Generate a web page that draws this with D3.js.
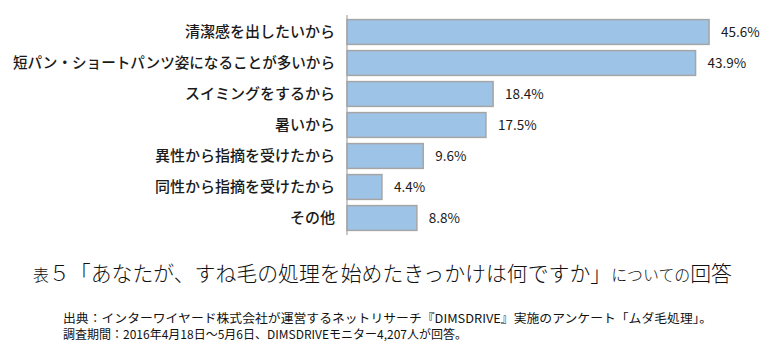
<!DOCTYPE html>
<html><head><meta charset="utf-8">
<script src="https://cdn.jsdelivr.net/npm/d3@7"></script>
<style>
html,body{margin:0;padding:0;background:#fff;}
svg{display:block;}
text{font-family:"Noto Sans CJK JP","Noto Sans",sans-serif;}
</style></head>
<body>
<svg id="chart" width="774" height="348"></svg>
<script>
const categories = ["清潔感を出したいから","短パン・ショートパンツ姿になることが多いから","スイミングをするから","暑いから","異性から指摘を受けたから","同性から指摘を受けたから","その他"];
const values = [45.6, 43.9, 18.4, 17.5, 9.6, 4.4, 8.8];
const valueLabels = ["45.6%","43.9%","18.4%","17.5%","9.6%","4.4%","8.8%"];
const titleParts = [
  {t:"表", big:false},
  {t:"５「あなたが、すね毛の処理を始めたきっかけは何ですか」", big:true},
  {t:"についての", big:false},
  {t:"回答", big:true}
];
const notes = [
  "出典：インターワイヤード株式会社が運営するネットリサーチ『DIMSDRIVE』実施のアンケート「ムダ毛処理」。",
  "調査期間：2016年4月18日～5月6日、DIMSDRIVEモニター4,207人が回答。"
];

const svg = d3.select("#chart");
const x = d3.scaleLinear().domain([0, 50]).range([347, 744]);
const y = d3.scaleBand().domain(categories).range([16.5, 233.5]).paddingInner(0.2).paddingOuter(0.1);

svg.append("g").selectAll("rect").data(values).join("rect")
  .attr("x", x(0))
  .attr("y", (d,i)=>y(categories[i]))
  .attr("width", d=>x(d)-x(0))
  .attr("height", y.bandwidth())
  .attr("fill", "#9DC3E6")
  .attr("stroke", "#A5A5A5")
  .attr("stroke-width", 1.5);

const yAxis = svg.append("g").attr("transform", `translate(${x(0)},0)`)
  .call(d3.axisLeft(y).tickSize(0).tickPadding(12));
yAxis.select(".domain").attr("stroke", "#A6A6A6").attr("stroke-width", 1.2)
  .attr("d", "M0,15V235");
yAxis.selectAll("text").attr("font-size", 15).attr("fill", "#1a1a1a")
  .attr("font-family", '"Noto Sans CJK JP",sans-serif').attr("font-weight", 500);
yAxis.selectAll("text").filter(d=>d===categories[1])
  .attr("textLength", 322).attr("lengthAdjust", "spacingAndGlyphs");

svg.append("g").selectAll("text").data(values).join("text")
  .attr("x", d=>x(d)+12)
  .attr("y", (d,i)=>y(categories[i]) + y.bandwidth()/2)
  .attr("dy", "0.35em")
  .attr("font-size", 13.5)
  .attr("fill", "#1a1a1a")
  .attr("font-family", '"Open Sans","Noto Sans",sans-serif')
  .text((d,i)=>valueLabels[i]);

const title = svg.append("text").attr("x", 33).attr("y", 281)
  .attr("fill", "#111").attr("font-weight", 300)
  .attr("textLength", 699).attr("lengthAdjust", "spacingAndGlyphs");
titleParts.forEach(p=>{
  title.append("tspan").attr("font-size", p.big ? 21 : 16).text(p.t);
});

svg.append("g").selectAll("text").data(notes).join("text")
  .attr("x", 63)
  .attr("y", (d,i)=>323 + i*15.5)
  .attr("font-size", 12)
  .attr("fill", "#111")
  .attr("textLength", (d,i)=> i===0 ? 649 : 404)
  .attr("lengthAdjust", "spacingAndGlyphs")
  .text(d=>d);
</script>
</body></html>
